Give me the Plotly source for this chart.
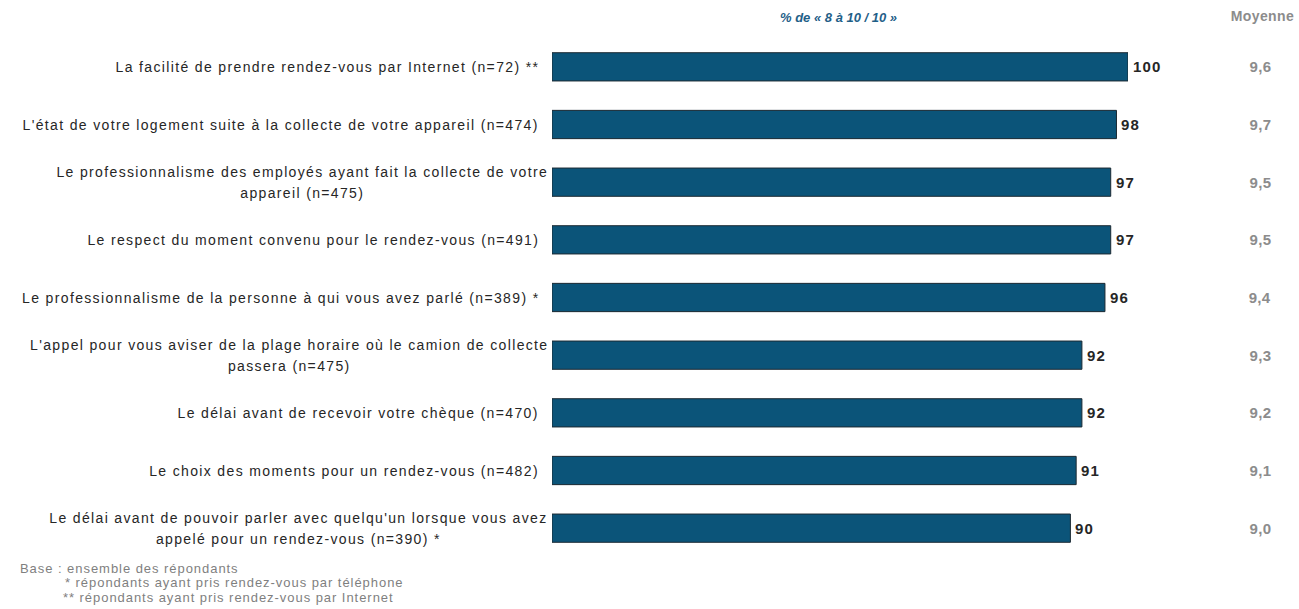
import json
import plotly.graph_objects as go

categories = [
    "La facilité de prendre rendez-vous par Internet (n=72) **",
    "L'état de votre logement suite à la collecte de votre appareil (n=474)",
    "Le professionnalisme des employés ayant fait la collecte de votre<br>appareil (n=475)",
    "Le respect du moment convenu pour le rendez-vous (n=491)",
    "Le professionnalisme de la personne à qui vous avez parlé (n=389) *",
    "L'appel pour vous aviser de la plage horaire où le camion de collecte<br>passera (n=475)",
    "Le délai avant de recevoir votre chèque (n=470)",
    "Le choix des moments pour un rendez-vous (n=482)",
    "Le délai avant de pouvoir parler avec quelqu'un lorsque vous avez<br>appelé pour un rendez-vous (n=390) *",
]
pct_8_10 = [100, 98, 97, 97, 96, 92, 92, 91, 90]
moyenne = ["9,6", "9,7", "9,5", "9,5", "9,4", "9,3", "9,2", "9,1", "9,0"]
header_pct = "% de « 8 à 10 / 10 »"
header_moy = "Moyenne"
footnotes = [
    "Base : ensemble des répondants",
    "* répondants ayant pris rendez-vous par téléphone",
    "** répondants ayant pris rendez-vous par Internet",
]

FONT = "Liberation Sans, Arial, sans-serif"
BAR = "#0b5479"

fig = go.Figure()
fig.add_trace(go.Bar(
    y=categories, x=pct_8_10, orientation="h",
    marker=dict(color=BAR, line=dict(color="#1c2a33", width=1)),
    width=0.49, hoverinfo="skip",
))

annotations = []
specs = []  # per-annotation text-spacing tweaks applied after render


def add(ann, ls=0.0, anchor="c", lh=None):
    specs.append(dict(i=len(annotations), ls=ls, a=anchor, lh=lh))
    annotations.append(ann)


for c, v, m in zip(categories, pct_8_10, moyenne):
    multi = "<br>" in c
    add(dict(
        x=0, xref="paper", y=c, yref="y", xanchor="right",
        xshift=-2 if multi else -11,
        text=c, showarrow=False, align="center" if multi else "right",
        font=dict(family=FONT, size=14, color="#262626"),
    ), ls=1.35, anchor="r", lh=1.5 if multi else None)
    add(dict(
        x=v, xref="x", y=c, yref="y", xanchor="left", xshift=3,
        text=f"<b>{v}</b>", showarrow=False,
        font=dict(family=FONT, size=15, color="#262626"),
    ), ls=1.2, anchor="l")
    add(dict(
        x=(1260 - 552) / 576, xref="paper", y=c, yref="y", xanchor="center",
        text=f"<b>{m}</b>", showarrow=False,
        font=dict(family=FONT, size=15, color="#8c8c8c"),
    ), ls=0.3, anchor="c")

add(dict(x=(838 - 552) / 576, xref="paper", y=1 + (38 - 17) / 519, yref="paper",
         xanchor="center", yanchor="middle",
         text=f"<b><i>{header_pct}</i></b>", showarrow=False,
         font=dict(family=FONT, size=13, color="#1f6088")))
add(dict(x=(1262 - 552) / 576, xref="paper", y=1 + (38 - 16) / 519, yref="paper",
         xanchor="center", yanchor="middle", text=f"<b>{header_moy}</b>",
         showarrow=False, font=dict(family=FONT, size=14, color="#8c8c8c")),
    ls=0.4, anchor="c")

for t, px, py in zip(footnotes, [18, 63, 61], [568, 582, 597]):
    add(dict(
        x=(px - 552) / 576, xref="paper", y=1 - (py - 38) / 519, yref="paper",
        xanchor="left", yanchor="middle", text=t, showarrow=False, align="left",
        font=dict(family=FONT, size=13, color="#7f7f7f"),
    ), ls=0.95, anchor="l")

fig.update_layout(
    width=1299, height=609,
    margin=dict(l=552, r=171, t=38, b=52),
    paper_bgcolor="white", plot_bgcolor="white",
    showlegend=False,
    xaxis=dict(range=[0, 100], visible=False, fixedrange=True),
    yaxis=dict(autorange="reversed", showticklabels=False, showgrid=False,
               zeroline=False, showline=False, ticks="", fixedrange=True),
    annotations=annotations,
    bargap=0.51,
)

post = """
(function(){
var specs = SPECS;
function fix(){
  var gd = document.getElementById('{plot_id}');
  if(!gd) return;
  specs.forEach(function(s){
    if(!s.ls && !s.lh) return;
    var g = gd.querySelector('g.annotation[data-index="'+s.i+'"]');
    if(!g) return;
    var t = g.querySelector('text.annotation-text');
    if(!t) return;
    var b0 = t.getBBox();
    if(s.ls) t.style.letterSpacing = s.ls + 'px';
    if(s.lh){
      t.querySelectorAll('tspan.line').forEach(function(ts){
        var d = ts.getAttribute('dy');
        if(d && d.indexOf('em') > 0){
          var v = parseFloat(d);
          if(v) ts.setAttribute('dy', (v * s.lh / 1.3) + 'em');
        }
      });
    }
    var b1 = t.getBBox();
    var dx;
    if(s.a === 'r') dx = (b0.x + b0.width) - (b1.x + b1.width);
    else if(s.a === 'l') dx = b0.x - b1.x;
    else dx = (b0.x + b0.width/2) - (b1.x + b1.width/2);
    var dy = (b0.y + b0.height/2) - (b1.y + b1.height/2);
    t.setAttribute('transform', 'translate(' + dx + ',' + dy + ')');
  });
}
fix();
})();
""".replace("SPECS", json.dumps(specs))

fig.write_html("out.html", config={"displayModeBar": False, "staticPlot": True},
               post_script=post)
